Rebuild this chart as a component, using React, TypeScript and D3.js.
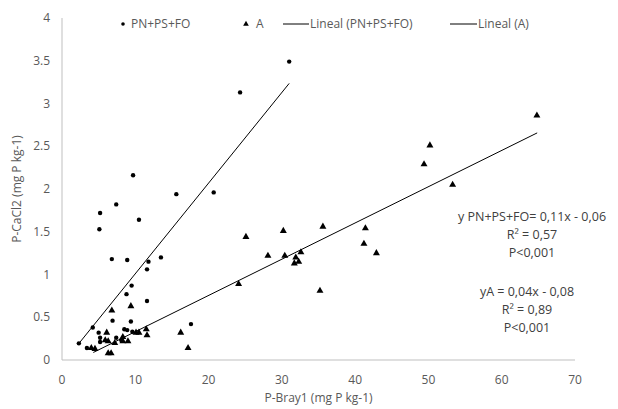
import React from "react";
import * as d3 from "d3";

const pnX = [31.0, 24.3, 20.7, 9.7, 15.6, 7.4, 5.2, 10.5, 5.1, 6.8, 8.9, 11.8, 13.5, 11.6, 9.5, 8.8, 11.6, 17.6, 4.2, 2.3, 6.9, 9.4, 5.0, 8.5, 8.9, 5.2, 5.2, 3.4, 7.4, 9.6, 8.1];
const pnY = [3.49, 3.13, 1.96, 2.16, 1.94, 1.82, 1.72, 1.64, 1.53, 1.18, 1.17, 1.15, 1.20, 1.06, 0.87, 0.77, 0.69, 0.42, 0.38, 0.195, 0.46, 0.45, 0.32, 0.36, 0.35, 0.26, 0.21, 0.14, 0.26, 0.33, 0.23];

const aX = [64.8, 53.3, 50.2, 49.4, 25.1, 30.2, 35.6, 41.4, 41.2, 42.9, 28.1, 30.4, 31.9, 32.6, 31.7, 32.3, 24.1, 35.2, 6.8, 9.4, 6.1, 5.9, 6.3, 7.2, 8.3, 9.0, 8.3, 10.1, 10.5, 11.5, 11.6, 16.2, 17.2, 6.3, 6.7, 4.0, 4.5];
const aY = [2.86, 2.05, 2.51, 2.29, 1.44, 1.51, 1.56, 1.54, 1.36, 1.25, 1.22, 1.22, 1.20, 1.26, 1.13, 1.15, 0.89, 0.81, 0.58, 0.63, 0.32, 0.23, 0.22, 0.20, 0.22, 0.22, 0.27, 0.32, 0.32, 0.36, 0.29, 0.32, 0.14, 0.08, 0.08, 0.14, 0.13];

// trend lines: [slope, intercept], x-range
const pnTrend = [0.106, -0.051];
const pnTrendRange = [2.3, 31.0];
const aTrend = [0.0424, -0.093];
const aTrendRange = [4.27, 64.84];

const xTicks = [0, 10, 20, 30, 40, 50, 60, 70];
const yTicks = [0, 0.5, 1, 1.5, 2, 2.5, 3, 3.5, 4];

const legendLabels = ["PN+PS+FO", "A", "Lineal (PN+PS+FO)", "Lineal (A)"];
const eqPN = ["y PN+PS+FO= 0,11x - 0,06", "R² = 0,57", "P<0,001"];
const eqA = ["yA = 0,04x - 0,08", "R² = 0,89", "P<0,001"];

const xTitle = "P-Bray1 (mg P kg-1)";
const yTitle = "P-CaCl2 (mg P kg-1)";

export default function App() {
  const W = 618, H = 409;
  const x = d3.scaleLinear().domain([0, 70]).range([62, 575]);
  const y = d3.scaleLinear().domain([0, 4]).range([360, 18]);
  const font = "'Open Sans', sans-serif";
  const tickColor = "#595959";
  const axisColor = "#bfbfbf";
  const fs = 12;
  const tri = d3.symbol(d3.symbolTriangle).size(21)() as string;

  const trendLine = (coef: number[], range: number[]) =>
    d3.line<number>().x((v) => x(v)).y((v) => y(coef[0] * v + coef[1]))(range) as string;

  return (
    <svg width={W} height={H} style={{ position: "absolute", left: 0, top: 0, background: "#fff" }} fontFamily={font}>
      <rect width={W} height={H} fill="#fff" />
      {/* axes */}
      <line x1={x(0)} x2={x(0)} y1={y(4)} y2={y(0)} stroke={axisColor} strokeWidth={1} />
      <line x1={x(0)} x2={x(70)} y1={y(0)} y2={y(0)} stroke={axisColor} strokeWidth={1} />
      {yTicks.map((t) => (
        <text key={"y" + t} x={50} y={y(t)} dy="0.35em" textAnchor="end" fontSize={fs} fill={tickColor}>
          {String(t)}
        </text>
      ))}
      {xTicks.map((t) => (
        <text key={"x" + t} x={x(t)} y={384} textAnchor="middle" fontSize={fs} fill={tickColor}>
          {String(t)}
        </text>
      ))}
      <text x={x(35)} y={402} textAnchor="middle" fontSize={fs} fill={tickColor}>{xTitle}</text>
      <text transform={`translate(21,${y(2)}) rotate(-90)`} textAnchor="middle" fontSize={fs} fill={tickColor}>{yTitle}</text>

      {/* trend lines */}
      <path d={trendLine(pnTrend, pnTrendRange)} stroke="#000" strokeWidth={1} fill="none" />
      <path d={trendLine(aTrend, aTrendRange)} stroke="#000" strokeWidth={1} fill="none" />

      {/* points */}
      {pnX.map((v, i) => (
        <circle key={"p" + i} cx={x(v)} cy={y(pnY[i])} r={2.2} fill="#000" />
      ))}
      {aX.map((v, i) => (
        <path key={"a" + i} d={tri} transform={`translate(${x(v)},${y(aY[i])})`} fill="#000" />
      ))}

      {/* legend */}
      <g fontSize={fs} fill={tickColor}>
        <circle cx={123} cy={24} r={1.8} fill="#000" />
        <text x={131} y={24} dy="0.35em">{legendLabels[0]}</text>
        <path d={d3.symbol(d3.symbolTriangle).size(14)() as string} transform="translate(246,24)" fill="#000" />
        <text x={256} y={24} dy="0.35em">{legendLabels[1]}</text>
        <line x1={283} x2={309} y1={24} y2={24} stroke="#000" />
        <text x={310} y={24} dy="0.35em">{legendLabels[2]}</text>
        <line x1={450} x2={477} y1={24} y2={24} stroke="#000" />
        <text x={478} y={24} dy="0.35em">{legendLabels[3]}</text>
      </g>

      {/* equations */}
      <g fontSize={12.5} fill="#404040" textAnchor="middle">
        {eqPN.map((t, i) => (
          <text key={"e1" + i} x={532} y={217 + i * 18} dy="0.35em">{t}</text>
        ))}
        {eqA.map((t, i) => (
          <text key={"e2" + i} x={527} y={292 + i * 18} dy="0.35em">{t}</text>
        ))}
      </g>
    </svg>
  );
}
